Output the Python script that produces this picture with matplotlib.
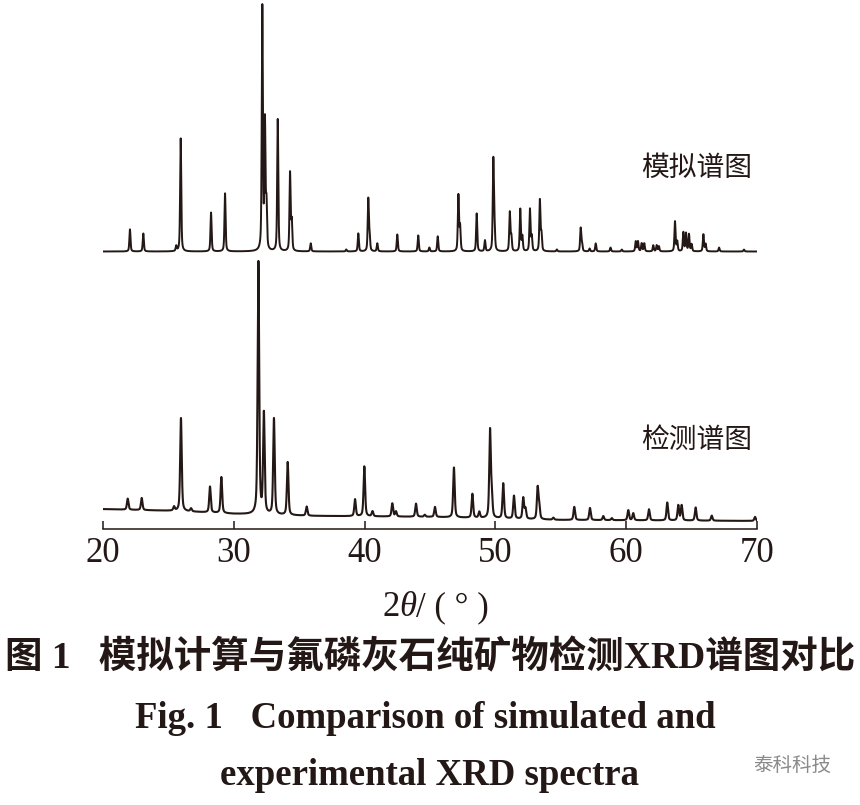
import numpy as np
import matplotlib
matplotlib.use("Agg")
import matplotlib.pyplot as plt

plt.rcParams['font.family'] = ['Liberation Serif', 'Noto Sans CJK SC', 'DejaVu Sans']

# -----------------------------
# DATA (peak position 2theta, relative intensity 0-100)
# -----------------------------
sim_pos = [22.06, 23.08, 25.60, 25.94, 28.26, 29.33, 32.18, 32.38, 32.50, 33.36,
           34.30, 34.43, 35.88, 38.60, 39.52, 40.28, 40.38, 40.97, 42.50, 44.10,
           44.95, 45.59, 47.17, 47.30, 48.57, 49.20, 49.84, 49.93, 51.10, 51.22,
           51.90, 52.06, 52.64, 52.78, 53.40, 53.52, 54.70, 56.52, 56.62, 57.20,
           57.67, 58.80, 59.66, 60.73, 60.90, 61.18, 61.38, 62.07, 62.33, 62.50,
           63.73, 63.90, 64.37, 64.57, 64.80, 65.00, 65.90, 66.07, 67.10, 69.00]
sim_int = [9.1, 7.4, 2.1, 46.5, 16.0, 23.9, 100.0, 52.0, 18.0, 54.3,
           32.1, 12.0, 3.3, 0.8, 7.4, 21.4, 6.0, 3.3, 7.0, 6.6,
           1.6, 6.2, 23.0, 10.0, 15.6, 4.5, 37.4, 9.0, 16.0, 6.0,
           17.3, 6.0, 17.3, 6.0, 21.0, 7.0, 0.8, 9.5, 3.0, 1.2,
           3.3, 1.6, 0.8, 4.1, 4.1, 3.3, 3.3, 2.5, 2.5, 2.1,
           12.3, 4.0, 7.8, 7.4, 7.0, 2.9, 7.0, 3.0, 1.6, 0.8]

exp_pos = [21.89, 22.96, 25.43, 25.96, 26.73, 28.18, 29.05, 31.88, 32.30, 33.07,
           34.12, 35.57, 39.27, 39.98, 40.60, 42.12, 42.40, 43.93, 44.60, 45.38,
           46.83, 48.24, 48.77, 49.59, 49.72, 50.60, 51.42, 52.13, 52.30, 53.23,
           53.35, 54.43, 56.03, 57.23, 58.25, 58.90, 60.16, 60.54, 61.74, 63.14,
           63.98, 64.24, 65.31, 66.54, 69.85]
exp_int = [4.4, 4.8, 1.6, 36.9, 1.2, 10.3, 14.3, 100.0, 39.7, 38.1,
           21.0, 3.6, 6.7, 19.8, 2.0, 5.2, 2.0, 5.2, 0.8, 4.0,
           19.8, 9.5, 2.4, 34.5, 8.0, 13.9, 9.1, 8.3, 4.0, 12.3,
           5.0, 0.8, 5.2, 4.8, 1.6, 0.8, 4.0, 2.8, 4.4, 7.1,
           6.0, 6.0, 5.2, 2.0, 1.6]

# experimental background (2theta, relative level)
bg_pos = [20, 26, 30, 36, 45, 55, 70]
bg_val = [7.9, 7.1, 6.0, 5.2, 4.8, 3.6, 3.2]

x_ticks = [20, 30, 40, 50, 60, 70]


def profile(x, pos, inten, fwhm):
    # pseudo-Voigt line shape, eta = 0.5
    y = np.zeros_like(x)
    s = fwhm / 2.355
    for p, h in zip(pos, inten):
        d = x - p
        g = np.exp(-0.5 * (d / s) ** 2)
        l = 1.0 / (1.0 + (d / (fwhm / 2)) ** 2)
        y += h * (0.5 * g + 0.5 * l)
    return y


tt = np.linspace(20, 70, 10001)
sim = profile(tt, sim_pos, sim_int, 0.10)
exp = profile(tt, exp_pos, exp_int, 0.14) + np.interp(tt, bg_pos, bg_val)

# -----------------------------
# FIGURE
# -----------------------------
W, H = 860, 805
fig = plt.figure(figsize=(W / 100, H / 100), dpi=100)
ax = fig.add_axes([103 / W, (H - 529) / H, 654 / W, 529 / H])

ink = '#231815'
ax.plot(tt, 277.5 + sim * 2.43, color=ink, lw=1.4)
ax.plot(tt, exp * 2.52, color=ink, lw=1.5)

ax.set_xlim(20, 70)
ax.set_ylim(0, 529)
for s in ['left', 'right', 'top']:
    ax.spines[s].set_visible(False)
ax.spines['bottom'].set_color(ink)
ax.spines['bottom'].set_linewidth(1.1)
ax.set_yticks([])
ax.set_xticks(x_ticks)
ax.tick_params(axis='x', direction='in', length=6, width=1.1, color=ink,
               pad=6, labelsize=25, labelcolor=ink)

cjk = ['Noto Sans CJK SC', 'DejaVu Sans']
ax.text(69.6, 361, '模拟谱图', ha='right', va='center', fontsize=20,
        family=cjk, fontweight='light', color=ink)
ax.text(69.6, 89, '检测谱图', ha='right', va='center', fontsize=20,
        family=cjk, fontweight='light', color=ink)

# x label: 2θ/ ( ° )
t1 = fig.text(382 / W, 1 - 624 / H, '2', fontsize=25, va='bottom', color=ink)
t2 = ax.annotate('θ', xy=(1, 0), xycoords=t1, va='bottom', fontsize=25,
                 style='italic', color=ink)
ax.annotate('/ ( ° )', xy=(1, 0), xycoords=t2, va='bottom', fontsize=25, color=ink)

# captions
fig.text(430 / W, 1 - 658 / H, '图 1   模拟计算与氟磷灰石纯矿物检测XRD谱图对比',
         ha='center', va='center', fontsize=27, fontweight='bold', color=ink)
fig.text(425 / W, 1 - 718 / H, 'Fig. 1   Comparison of simulated and',
         ha='center', va='center', fontsize=26.5, fontweight='bold', color=ink)
fig.text(430 / W, 1 - 775 / H, 'experimental XRD spectra',
         ha='center', va='center', fontsize=26.5, fontweight='bold', color=ink)
fig.text(792 / W, 1 - 765 / H, '泰科科技', ha='center', va='center',
         fontsize=14, family=cjk, color='#8a8a8a')

fig.savefig('out.png', dpi=100)
